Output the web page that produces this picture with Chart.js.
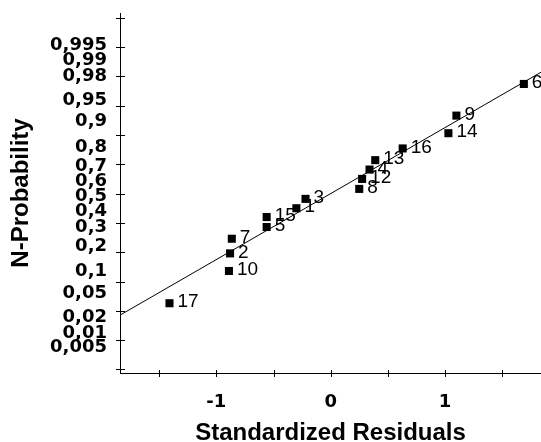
<!DOCTYPE html>
<html>
<head>
<meta charset="utf-8">
<script src="https://cdn.jsdelivr.net/npm/chart.js@4.4.0/dist/chart.umd.min.js"></script>
<style>
  html, body { margin: 0; padding: 0; background: #fff; }
  #wrap { width: 541px; height: 442px; }
</style>
</head>
<body>
<div id="wrap"><canvas id="chart" width="541" height="442"></canvas></div>
<script>
const obsLabels = ['17', '10', '2', '7', '5', '15', '1', '3', '8', '12', '4', '13', '16', '14', '9', '6'];
const residuals = [-1.41, -0.89, -0.88, -0.865, -0.56, -0.56, -0.30, -0.22, 0.25, 0.275, 0.34, 0.39, 0.63, 1.03, 1.10, 1.69];
const normalScores = [-1.87, -1.32, -1.02, -0.77, -0.57, -0.40, -0.25, -0.09, 0.08, 0.25, 0.41, 0.57, 0.77, 1.03, 1.33, 1.87];

// Reference line end points
const lineX = [-1.84, 1.84];
const lineY = [-2.07, 2.07];

// Axis ticks
const probTicks = [0.005, 0.01, 0.02, 0.05, 0.1, 0.2, 0.3, 0.4, 0.5, 0.6, 0.7, 0.8, 0.9, 0.95, 0.98, 0.99, 0.995];
const xTickValues = [-1, 0, 1];
const xTickMarks = [-1.5, -1, -0.5, 0, 0.5, 1, 1.5];
const yTickMarks = [-3, -2.5, -2, -1.5, -1, -0.5, 0, 0.5, 1, 1.5, 2, 2.5, 3];

// Inverse of the standard normal distribution (Acklam's approximation)
function qnorm(p) {
    const a = [-3.969683028665376e+01, 2.209460984245205e+02, -2.759285104469687e+02, 1.383577518672690e+02, -3.066479806614716e+01, 2.506628277459239e+00];
    const b = [-5.447609879822406e+01, 1.615858368580409e+02, -1.556989798598866e+02, 6.680131188771972e+01, -1.328068155288572e+01];
    const c = [-7.784894002430293e-03, -3.223964580411365e-01, -2.400758277161838e+00, -2.549671010115381e+00, 4.374664141464968e+00, 2.938163982698783e+00];
    const d = [7.784695709041462e-03, 3.224671290700398e-01, 2.445134137142996e+00, 3.754408661907416e+00];
    const pl = 0.02425;
    let q, r;
    if (p < pl) {
        q = Math.sqrt(-2 * Math.log(p));
        return (((((c[0]*q + c[1])*q + c[2])*q + c[3])*q + c[4])*q + c[5]) / ((((d[0]*q + d[1])*q + d[2])*q + d[3])*q + 1);
    }
    if (p > 1 - pl) {
        q = Math.sqrt(-2 * Math.log(1 - p));
        return -(((((c[0]*q + c[1])*q + c[2])*q + c[3])*q + c[4])*q + c[5]) / ((((d[0]*q + d[1])*q + d[2])*q + d[3])*q + 1);
    }
    q = p - 0.5;
    r = q * q;
    return (((((a[0]*r + a[1])*r + a[2])*r + a[3])*r + a[4])*r + a[5])*q / (((((b[0]*r + b[1])*r + b[2])*r + b[3])*r + b[4])*r + 1);
}

// Small crosses on both axes
const crossTicks = {
    id: 'crossTicks',
    afterDraw(chart) {
        const ctx = chart.ctx;
        const area = chart.chartArea;
        const xs = chart.scales.x, ys = chart.scales.y;
        ctx.save();
        ctx.strokeStyle = '#000';
        ctx.lineWidth = 1;
        ctx.beginPath();
        for (let v of yTickMarks) {
            const y = Math.round(ys.getPixelForValue(v)) + 0.5;
            ctx.moveTo(area.left - 4, y);
            ctx.lineTo(area.left + 5, y);
        }
        for (let v of xTickMarks) {
            const x = Math.round(xs.getPixelForValue(v)) + 0.5;
            ctx.moveTo(x, area.bottom - 3);
            ctx.lineTo(x, area.bottom + 4);
        }
        ctx.stroke();
        ctx.restore();
    }
};

// Observation numbers next to the points
const pointLabels = {
    id: 'pointLabels',
    afterDatasetsDraw(chart) {
        const ctx = chart.ctx;
        const meta = chart.getDatasetMeta(1);
        ctx.save();
        ctx.fillStyle = '#000';
        ctx.font = '19px "Liberation Sans"';
        ctx.textAlign = 'left';
        ctx.textBaseline = 'middle';
        meta.data.forEach(function(pt, i) {
            ctx.fillText(obsLabels[i], pt.x + 8, pt.y - 1);
        });
        ctx.restore();
    }
};

const tickFont = { family: 'DejaVu Sans', weight: 'bold', size: 18 };
const titleFont = { family: 'Liberation Sans', weight: 'bold', size: 24 };

new Chart(document.getElementById('chart').getContext('2d'), {
    type: 'scatter',
    data: {
        datasets: [{
            type: 'line',
            data: lineX.map((x, i) => ({ x: x, y: lineY[i] })),
            borderColor: '#000',
            borderWidth: 1,
            pointRadius: 0,
            fill: false
        }, {
            data: residuals.map((x, i) => ({ x: x, y: normalScores[i] })),
            backgroundColor: '#000',
            borderWidth: 0,
            pointStyle: 'rect',
            pointRadius: 5.7,
            clip: false
        }]
    },
    options: {
        responsive: false,
        animation: false,
        devicePixelRatio: 1,
        layout: { autoPadding: false, padding: { top: 13, right: 0, bottom: 0, left: 0 } },
        plugins: { legend: { display: false }, tooltip: { enabled: false } },
        scales: {
            x: {
                type: 'linear',
                min: -1.843,
                max: 1.84,
                afterBuildTicks: s => { s.ticks = xTickValues.map(v => ({ value: v })); },
                afterFit: s => { s.height = 69; s.paddingLeft = 0; s.paddingRight = 0; },
                grid: { display: false, drawTicks: false },
                border: { display: true, color: '#000', width: 1 },
                ticks: { padding: 19, color: '#000', font: tickFont, callback: v => String(v) },
                title: { display: true, text: 'Standardized Residuals', color: '#000', font: titleFont, padding: { top: 0, bottom: -6 } }
            },
            y: {
                type: 'linear',
                min: -3.06,
                max: 3.08,
                afterBuildTicks: s => { s.ticks = probTicks.map(p => ({ value: qnorm(p) })); },
                afterFit: s => { s.width = 120; s.paddingTop = 0; s.paddingBottom = 0; },
                grid: { display: false, drawTicks: false },
                border: { display: true, color: '#000', width: 1 },
                ticks: {
                    autoSkip: false, padding: 13, labelOffset: 3, color: '#000', font: tickFont,
                    callback: (v, i) => String(probTicks[i]).replace('.', ',')
                },
                title: { display: true, text: 'N-Probability', color: '#000', font: titleFont, padding: { top: 7, bottom: 0 } }
            }
        }
    },
    plugins: [crossTicks, pointLabels]
});
</script>
</body>
</html>
